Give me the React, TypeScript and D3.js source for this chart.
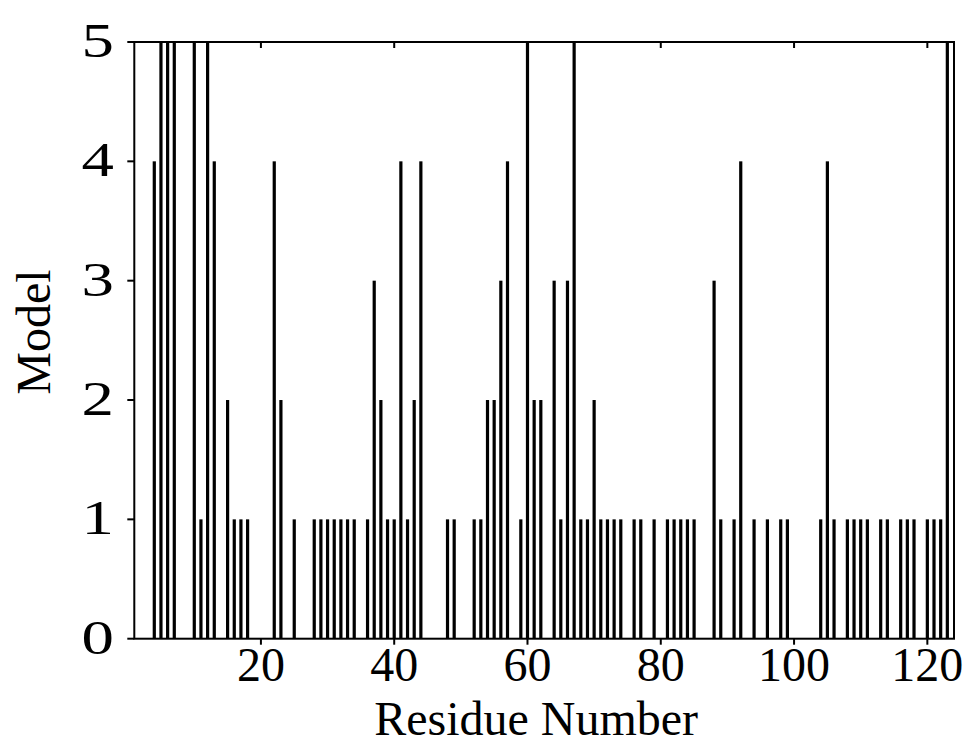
import React from "react";
import * as d3 from "d3";

const residues = [4,5,6,7,10,11,12,13,15,16,17,18,22,23,25,28,29,30,31,32,33,34,36,37,38,39,40,41,42,43,44,48,49,52,53,54,55,56,57,59,60,61,62,64,65,66,67,68,69,70,71,72,73,74,76,77,79,81,82,83,84,85,88,89,91,92,94,96,98,99,104,105,106,108,109,110,111,113,114,116,117,118,120,121,122,123];
const models = [4,5,5,5,5,1,5,4,2,1,1,1,4,2,1,1,1,1,1,1,1,1,1,3,2,1,1,4,1,2,4,1,1,1,1,2,2,3,4,1,5,2,2,3,1,3,5,1,1,2,1,1,1,1,1,1,1,1,1,1,1,1,3,1,1,4,1,1,1,1,1,4,1,1,1,1,1,1,1,1,1,1,1,1,1,5];
const xTicks = [20, 40, 60, 80, 100, 120];
const yTicks = [0, 1, 2, 3, 4, 5];
const xLabel = "Residue Number";
const yLabel = "Model";

export default function App() {
  const W = 977, H = 744;
  const left = 134.3, right = 954, top = 42, bottom = 638.7;
  const x = d3.scaleLinear().domain([1, 124]).range([left, right]);
  const y = d3.scaleLinear().domain([0, 5]).range([bottom, top]);
  const font = "'Liberation Serif', 'Times New Roman', serif";
  const barW = 3.2;
  return (
    <svg width={W} height={H} style={{ position: "absolute", left: 0, top: 0, background: "#fff" }}>
      <rect x={0} y={0} width={W} height={H} fill="#fff" />
      {residues.map((r, i) => (
        <rect key={r} x={x(r) - barW / 2} y={y(models[i])} width={barW} height={y(0) - y(models[i])} fill="#000" />
      ))}
      <rect x={left} y={top} width={right - left} height={bottom - top} fill="none" stroke="#000" strokeWidth={2} />
      {xTicks.map((t) => (
        <g key={t}>
          <line x1={x(t)} x2={x(t)} y1={bottom} y2={bottom + 6} stroke="#000" strokeWidth={2} />
          <line x1={x(t)} x2={x(t)} y1={top} y2={top + 6} stroke="#000" strokeWidth={2} />
          <text x={x(t)} y={681} textAnchor="middle" fontFamily={font} fontSize={48} fill="#000">{t}</text>
        </g>
      ))}
      {yTicks.map((t) => (
        <g key={t}>
          <line x1={left - 7} x2={left} y1={y(t)} y2={y(t)} stroke="#000" strokeWidth={2} />
          <g transform={`translate(114, ${y(t) + 15}) scale(1.35, 1)`}>
            <text x={0} y={0} textAnchor="end" fontFamily={font} fontSize={48} fill="#000">{t}</text>
          </g>
        </g>
      ))}
      <text x={(left + right) / 2 - 8} y={735} textAnchor="middle" fontFamily={font} fontSize={48} fill="#000">{xLabel}</text>
      <text transform={`translate(50, 332) rotate(-90)`} textAnchor="middle" fontFamily={font} fontSize={48} fill="#000">{yLabel}</text>
    </svg>
  );
}
